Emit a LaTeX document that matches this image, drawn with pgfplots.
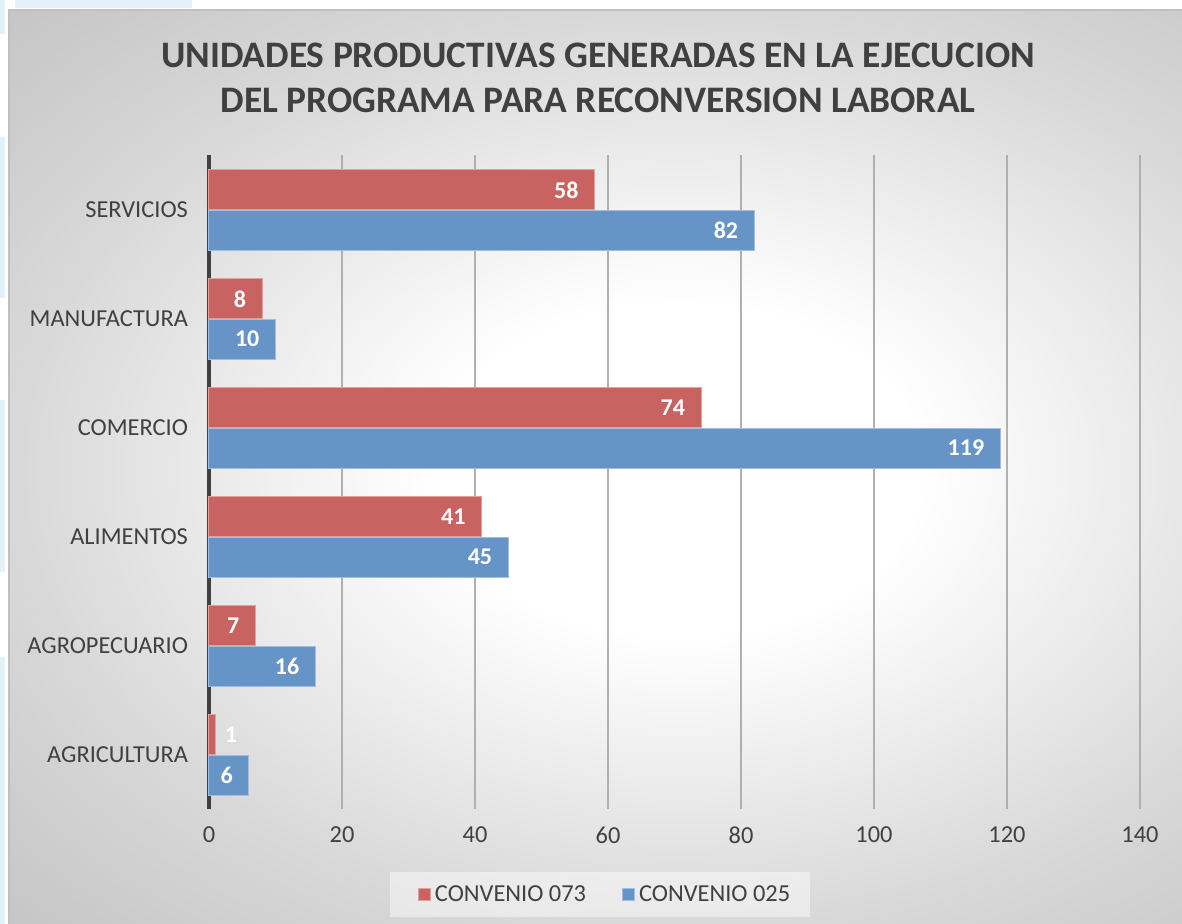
\documentclass[border=0pt]{standalone}
\usepackage{pgfplots}
\pgfplotsset{compat=1.18}
\usepackage{fontspec}
\setmainfont{Carlito}
\definecolor{redbar}{RGB}{200,99,97}
\definecolor{redborder}{RGB}{226,160,158}
\definecolor{bluebar}{RGB}{103,148,199}
\definecolor{blueborder}{RGB}{160,190,225}
\definecolor{txt}{RGB}{64,64,64}
\definecolor{lblue}{RGB}{227,241,250}
\definecolor{bgA}{RGB}{216,216,216}
\definecolor{bgB}{RGB}{196,196,196}
\definecolor{gridc}{RGB}{176,176,176}
\pgfdeclareradialshading{bgshade}{\pgfpoint{0bp}{0bp}}{color(0bp)=(white); color(9bp)=(white); color(25bp)=(bgA); color(36bp)=(bgB); color(50bp)=(bgB)}
\begin{document}
\begin{tikzpicture}
\begin{scope}[x=0.5pt,y=0.5pt]
\useasboundingbox (0,0) rectangle (1182,924);
\fill[white] (0,0) rectangle (1182,924);
% light blue slide remnants
\fill[lblue] (15,924) rectangle (192,916);
\fill[lblue] (0,924) rectangle (5,890);
\fill[lblue] (0,787) rectangle (5,626);
\fill[lblue] (0,524) rectangle (5,352);
\fill[lblue] (0,267) rectangle (5,0);
% chart area
\begin{scope}
\clip (9,0) rectangle (1182,914);
\shade[shading=bgshade] (9,-6) rectangle (1350,914);
\end{scope}
\draw[gridc!80!white, line width=1pt] (9,0) -- (9,914) -- (1182,914);
% title
\node[font=\fontsize{18.7}{22}\selectfont\bfseries, text=txt] at (598,924-55) {UNIDADES PRODUCTIVAS GENERADAS EN LA EJECUCION};
\node[font=\fontsize{18.7}{22}\selectfont\bfseries, text=txt] at (598,924-100) {DEL PROGRAMA PARA RECONVERSION LABORAL};
% legend box
\fill[white, opacity=0.45] (390,924-872) rectangle (810,924-917);
\end{scope}
\begin{axis}[
  at={(104.5pt,57.25pt)}, anchor=south west,
  scale only axis, width=465.5pt, height=327pt,
  xmin=0, xmax=140, ymin=-0.5, ymax=5.5,
  xtick={0,20,...,140},
  ytick={0,1,2,3,4,5},
  yticklabels={AGRICULTURA,AGROPECUARIO,ALIMENTOS,COMERCIO,MANUFACTURA,SERVICIOS},
  major tick length=0pt,
  axis lines*=left,
  x axis line style={draw=none},
  y axis line style={draw=txt, line width=2pt, -},
  xmajorgrids, grid style={draw=gridc, line width=1pt},
  tick label style={font=\fontsize{12.2}{14}\selectfont, text=txt},
  /pgf/number format/assume math mode=true,
  xticklabel style={yshift=-5pt},
  yticklabel style={xshift=-7pt},
  nodes near coords style={font=\fontsize{12}{14}\selectfont\bfseries, text=white},
  legend style={at={(0.4265,-0.1307)}, anchor=center, draw=none, fill=none,
    font=\fontsize{12.2}{14}\selectfont, text=txt, legend columns=2,
    /tikz/every even column/.append style={column sep=16pt}},
  legend image code/.code={\draw[#1, line width=0.5pt] (0pt,-3pt) rectangle (6pt,3pt);},
  clip=false,
]
\addplot[xbar, bar width=0.367, bar shift=0.184, fill=redbar, draw=redborder, line width=0.5pt,
  nodes near coords, nodes near coords style={anchor=east, xshift=-4.5pt, yshift=10pt}]
  coordinates {(7,1) (41,2) (74,3) (8,4) (58,5)};
\addlegendentry{CONVENIO 073}
\addplot[xbar, bar width=0.367, bar shift=-0.184, fill=bluebar, draw=blueborder, line width=0.5pt,
  nodes near coords, nodes near coords style={anchor=east, xshift=-4.5pt, yshift=-10pt}]
  coordinates {(6,0) (16,1) (45,2) (119,3) (10,4) (82,5)};
\addlegendentry{CONVENIO 025}
\addplot[xbar, forget plot, bar width=0.367, bar shift=0.184, fill=redbar, draw=redborder, line width=0.5pt,
  nodes near coords, nodes near coords style={anchor=west, xshift=1pt, yshift=10pt}]
  coordinates {(1,0)};
\end{axis}
\end{tikzpicture}
\end{document}
